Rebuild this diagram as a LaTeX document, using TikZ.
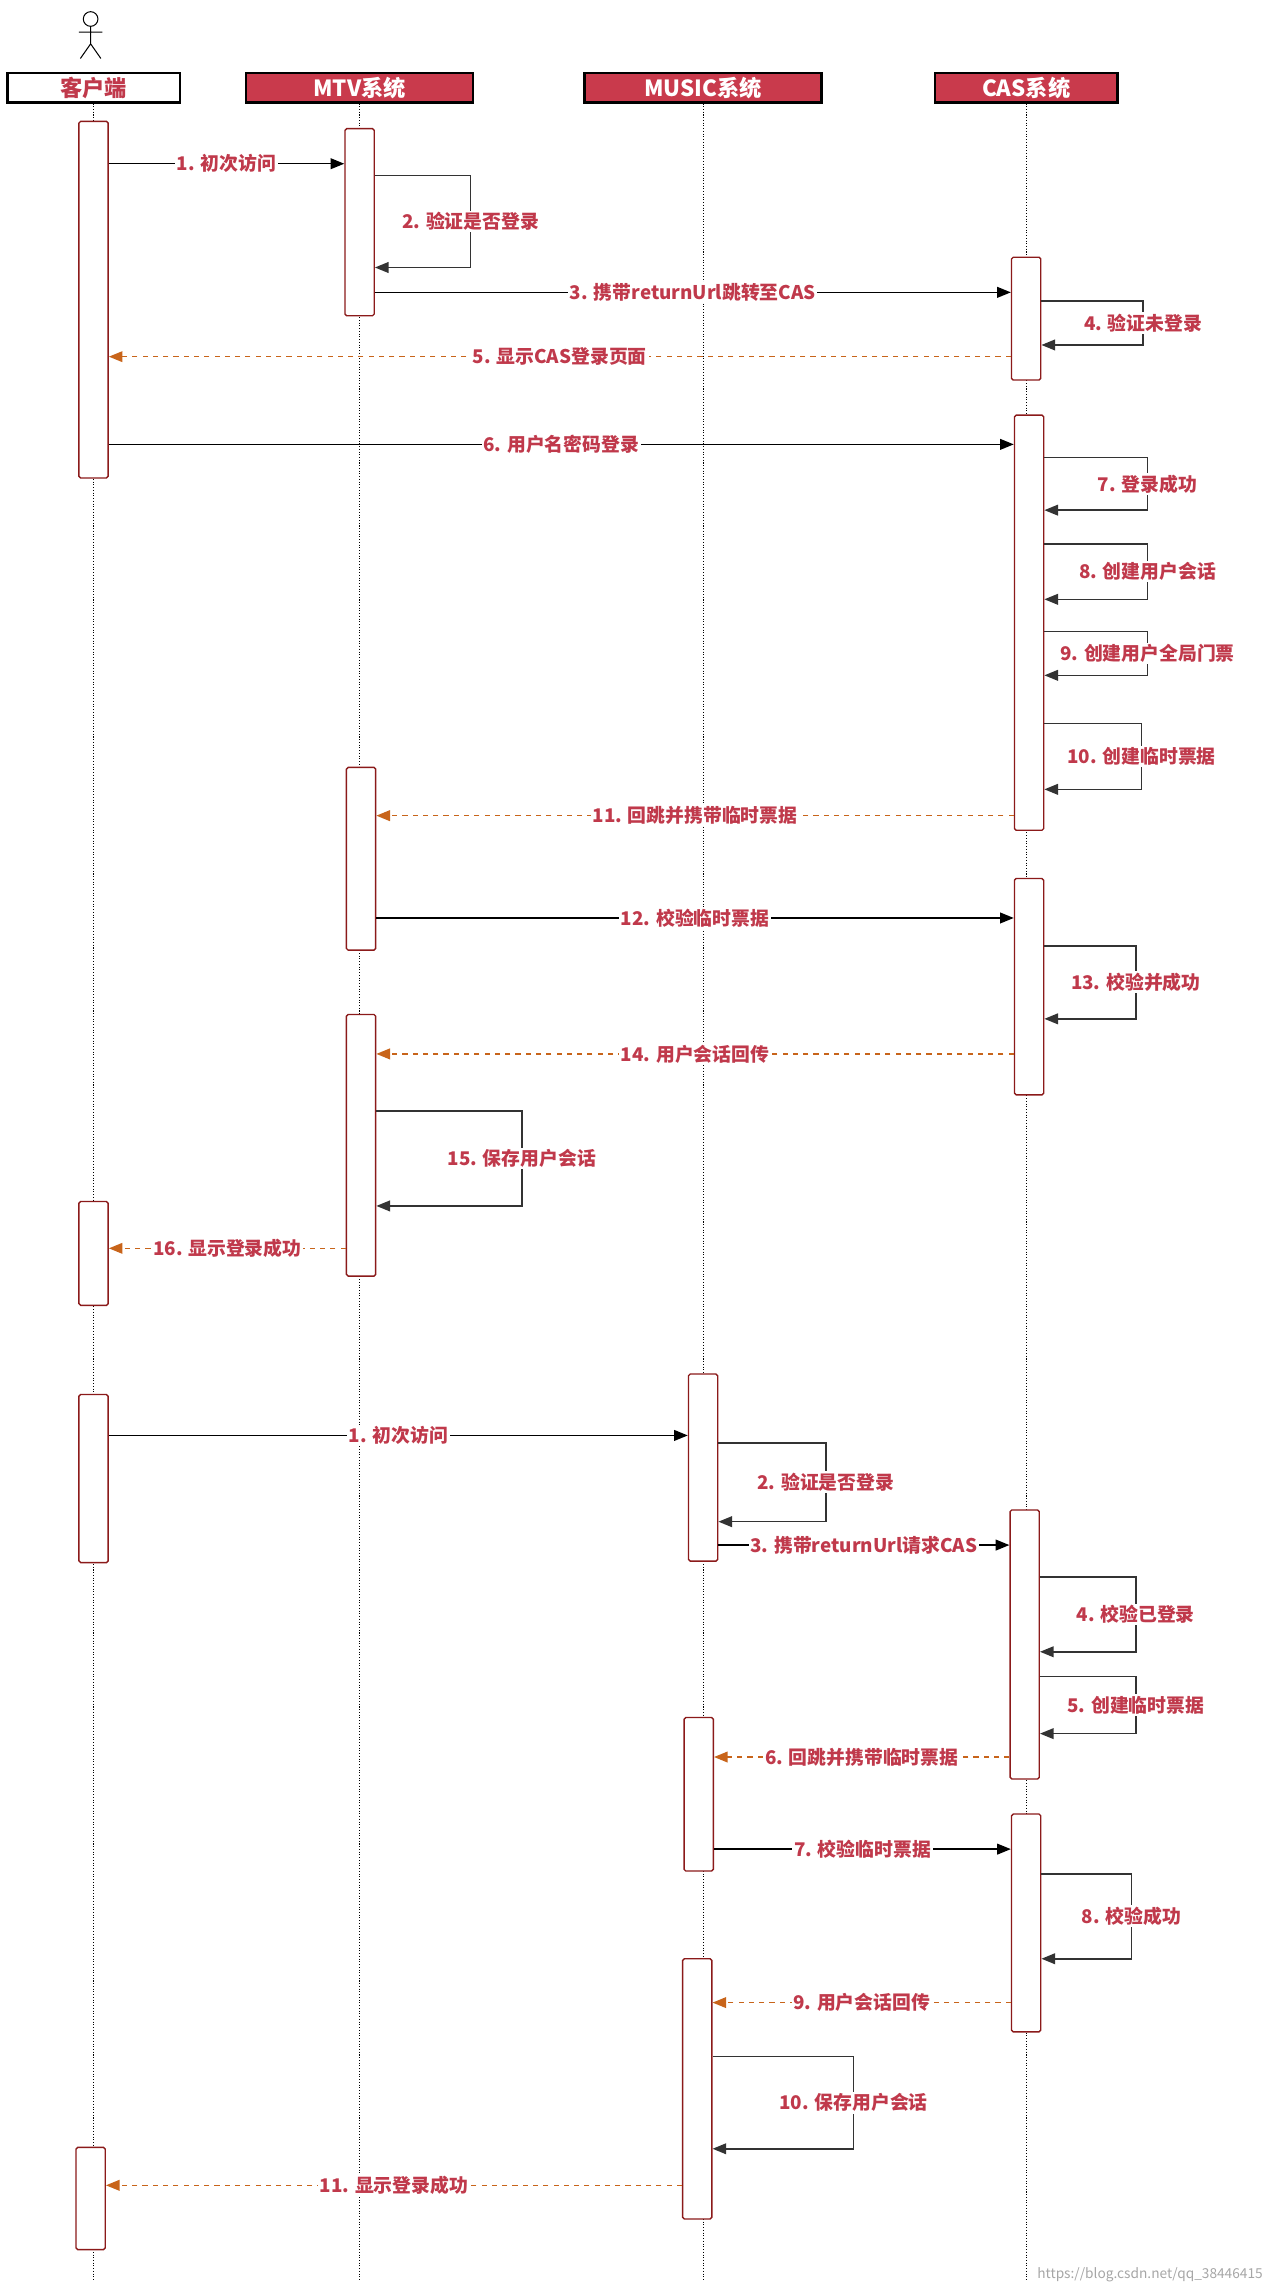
\documentclass[tikz,border=0pt]{standalone}
\usepackage{fontspec}
\setmainfont{Noto Sans CJK SC}
\usetikzlibrary{arrows.meta,positioning}
\definecolor{labred}{HTML}{C0394B}
\definecolor{headred}{HTML}{C93A4C}
\definecolor{barred}{HTML}{8B1A1A}
\definecolor{retorange}{HTML}{C8641A}
\tikzset{
	head/.style={draw=black, line width=1.4pt, fill=headred, text=white, minimum height=0.6cm, inner sep=0pt, font=\fontsize{13}{15}\selectfont\bfseries},
	act/.style={draw=barred, line width=0.8pt, fill=white, rounded corners=1pt, minimum width=0.6cm, inner sep=0pt},
	life/.style={densely dotted, line width=0.6pt},
	msg/.style={line width=0.9pt, -{Triangle[length=2.8mm,width=2.2mm]}},
	ret/.style={msg, dashed, draw=retorange, -{Triangle[length=2.8mm,width=2.2mm,fill=retorange]}},
	self/.style={msg, draw=black!80},
	lab/.style={fill=white, text=labred, inner sep=1pt, font=\fontsize{11}{13}\selectfont\bfseries}
}
% activation box: name, x, top, bottom
\newcommand{\actbox}[4]{\node[act, minimum height={0.03cm*(#4-#3)}] (#1) at (#2,{(#3+#4)/2}) {};}
% message to the right: from, to, y, label, style
\newcommand{\msgR}[5]{\draw[#5] (#1.east |- 0,#3) -- node[lab] {#4} (#2.west |- 0,#3);}
% message to the left
\newcommand{\msgL}[5]{\draw[#5] (#1.west |- 0,#3) -- node[lab] {#4} (#2.east |- 0,#3);}
% self call: box, top, bottom, right x, label
\newcommand{\selfmsg}[5]{\draw[self] (#1.east |- 0,#2) -- (#4,#2) -- (#4,#3) -- (#1.east |- 0,#3);
	\node[lab] at (#4,{(#2+#3)/2}) {#5};}

\begin{document}
\begin{tikzpicture}[x=0.03cm, y=-0.03cm]
	\useasboundingbox (0,0) rectangle (870,1568);

	% actor
	\draw[line width=0.6pt] (62,13) circle (5);
	\draw[line width=0.6pt] (62,18) -- (62,30) (54,22) -- (70,22) (55,40) -- (62,30) -- (69,40);

	% heads
	\node[head, fill=white, text=labred, minimum width=3.54cm] (client) at (64,60) {客户端};
	\node[head, minimum width=4.65cm] (mtv) at (246,60) {MTV系统};
	\node[head, minimum width=4.86cm] (music) at (481,60) {MUSIC系统};
	\node[head, minimum width=3.75cm] (cas) at (702,60) {CAS系统};

	% lifelines
	\draw[life] (client.south) -- (64,1560);
	\draw[life] (mtv.south) -- (246,1560);
	\draw[life] (music.south) -- (481,1560);
	\draw[life] (cas.south) -- (702,1560);

	% activations
	\actbox{c1}{64}{83}{327}
	\actbox{c2}{64}{822}{893}
	\actbox{c3}{64}{954}{1069}
	\actbox{c4}{62}{1469}{1539}
	\actbox{t1}{246}{88}{216}
	\actbox{t2}{247}{525}{650}
	\actbox{t3}{247}{694}{873}
	\actbox{u1}{481}{940}{1068}
	\actbox{u2}{478}{1175}{1280}
	\actbox{u3}{477}{1340}{1518}
	\actbox{s1}{702}{176}{260}
	\actbox{s2}{704}{284}{568}
	\actbox{s3}{704}{601}{749}
	\actbox{s4}{701}{1033}{1217}
	\actbox{s5}{702}{1241}{1390}

	% MTV login
	\msgR{c1}{t1}{112}{1. 初次访问}{msg}
	\selfmsg{t1}{120}{183}{322}{2. 验证是否登录}
	\msgR{t1}{s1}{200}{3. 携带returnUrl跳转至CAS}{msg}
	\selfmsg{s1}{206}{236}{782}{4. 验证未登录}
	\msgL{s1}{c1}{244}{5. 显示CAS登录页面}{ret}
	\msgR{c1}{s2}{304}{6. 用户名密码登录}{msg}
	\selfmsg{s2}{313}{349}{785}{7. 登录成功}
	\selfmsg{s2}{372}{410}{785}{8. 创建用户会话}
	\selfmsg{s2}{432}{462}{785}{9. 创建用户全局门票}
	\selfmsg{s2}{495}{540}{781}{10. 创建临时票据}
	\msgL{s2}{t2}{558}{11. 回跳并携带临时票据}{ret}
	\msgR{t2}{s3}{628}{12. 校验临时票据}{msg}
	\selfmsg{s3}{647}{697}{777}{13. 校验并成功}
	\msgL{s3}{t3}{721}{14. 用户会话回传}{ret}
	\selfmsg{t3}{760}{825}{357}{15. 保存用户会话}
	\msgL{t3}{c2}{854}{16. 显示登录成功}{ret}

	% MUSIC login
	\msgR{c3}{u1}{982}{1. 初次访问}{msg}
	\selfmsg{u1}{987}{1041}{565}{2. 验证是否登录}
	\msgR{u1}{s4}{1057}{3. 携带returnUrl请求CAS}{msg}
	\selfmsg{s4}{1079}{1130}{777}{4. 校验已登录}
	\selfmsg{s4}{1147}{1186}{777}{5. 创建临时票据}
	\msgL{s4}{u2}{1202}{6. 回跳并携带临时票据}{ret}
	\msgR{u2}{s5}{1265}{7. 校验临时票据}{msg}
	\selfmsg{s5}{1282}{1340}{774}{8. 校验成功}
	\msgL{s5}{u3}{1370}{9. 用户会话回传}{ret}
	\selfmsg{u3}{1407}{1470}{584}{10. 保存用户会话}
	\msgL{u3}{c4}{1495}{11. 显示登录成功}{ret}

	\node[text=black!35, font=\fontsize{8}{9}\selectfont, anchor=east] (mark) at (868,1556) {https://blog.csdn.net/qq\_38446415};
\end{tikzpicture}
\end{document}
